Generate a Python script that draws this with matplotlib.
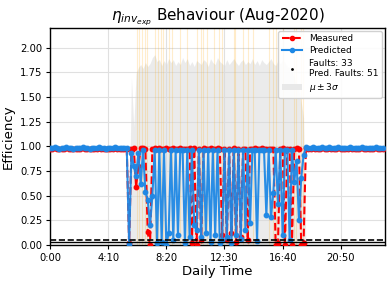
import numpy as np
import matplotlib
matplotlib.use("Agg")
import matplotlib.pyplot as plt
from matplotlib.ticker import FuncFormatter, MultipleLocator
from matplotlib.patches import Patch
from matplotlib.lines import Line2D

# ---- data (10-minute resolution, 144 samples) ----
step_min = 10
pred_night_am = [0.98, 0.98, 0.99, 0.98, 0.97, 0.98, 0.98, 0.99, 0.98, 0.98,
                 0.97, 0.98, 0.98, 0.98, 0.99, 0.98, 0.98, 0.97, 0.98, 0.98,
                 0.98, 0.99, 0.98, 0.98, 0.97, 0.98, 0.98, 0.98, 0.99, 0.98,
                 0.98, 0.98, 0.98, 0.98]
pred_day = [0.01, 0.93, 0.80, 0.70, 0.93, 0.62, 0.96, 0.54, 0.46, 0.20,
            0.50, 0.96, 0.02, 0.96, 0.03, 0.96, 0.00, 0.12, 0.96, 0.05,
            0.96, 0.10, 0.96, 0.96, 0.02, 0.96, 0.08, 0.96, 0.20, 0.15,
            0.96, 0.08, 0.96, 0.12, 0.96, 0.03, 0.96, 0.10, 0.96, 0.02,
            0.05, 0.96, 0.08, 0.96, 0.02, 0.96, 0.10, 0.96, 0.06, 0.96,
            0.15, 0.96, 0.22, 0.96, 0.96, 0.04, 0.96, 0.96, 0.96, 0.30,
            0.96, 0.28, 0.53, 0.96, 0.42, 0.96, 0.10, 0.96, 0.96, 0.05,
            0.96, 0.64, 0.85, 0.25, 0.68, 0.91]
pred_night_pm = [0.99, 0.98, 0.98, 0.99, 0.98, 0.98, 0.98, 0.99, 0.98, 0.98,
                 0.99, 0.98, 0.98, 0.98, 0.99, 0.98, 0.98, 0.98, 0.98, 0.99,
                 0.98, 0.98, 0.98, 0.98, 0.99, 0.98, 0.98, 0.98, 0.98, 0.98,
                 0.99, 0.98, 0.98, 0.98]

meas_night_am = [0.97, 0.97, 0.98, 0.97, 0.97, 0.97, 0.97, 0.98, 0.97, 0.97,
                 0.97, 0.97, 0.97, 0.97, 0.98, 0.97, 0.97, 0.97, 0.97, 0.97,
                 0.97, 0.98, 0.97, 0.97, 0.97, 0.97, 0.97, 0.97, 0.98, 0.97,
                 0.97, 0.97, 0.97, 0.97]
meas_day = [0.02, 0.97, 0.98, 0.59, 0.80, 0.98, 0.98, 0.97, 0.13, 0.00,
            0.97, 0.98, 0.97, 0.98, 0.97, 0.97, 0.98, 0.97, 0.97, 0.98,
            0.97, 0.97, 0.98, 0.97, 0.97, 0.97, 0.98, 0.02, 0.98, 0.00,
            0.97, 0.05, 0.98, 0.97, 0.97, 0.98, 0.97, 0.97, 0.98, 0.97,
            0.10, 0.97, 0.05, 0.97, 0.12, 0.98, 0.03, 0.97, 0.08, 0.97,
            0.97, 0.05, 0.97, 0.97, 0.98, 0.97, 0.97, 0.98, 0.97, 0.97,
            0.97, 0.97, 0.97, 0.00, 0.02, 0.97, 0.98, 0.00, 0.97, 0.97,
            0.00, 0.97, 0.98, 0.97, 0.00, 0.02]
meas_night_pm = [0.98, 0.97, 0.97, 0.98, 0.97, 0.97, 0.97, 0.98, 0.97, 0.97,
                 0.98, 0.97, 0.97, 0.97, 0.98, 0.97, 0.97, 0.97, 0.97, 0.98,
                 0.97, 0.97, 0.97, 0.97, 0.98, 0.97, 0.97, 0.97, 0.97, 0.97,
                 0.98, 0.97, 0.97, 0.97]

# upper edge of mu +/- 3 sigma band, from 5:30 to 18:20
band_start_min = 330
band_upper = [0.00, 0.30, 1.70, 1.20, 1.74, 1.80, 1.83, 1.79, 1.85, 1.81,
              1.84, 1.90, 1.93, 1.86, 1.88, 1.82, 1.87, 1.83, 1.89, 1.85,
              1.88, 1.82, 1.86, 1.83, 1.90, 1.85, 1.89, 1.82, 1.86, 1.81,
              1.87, 1.85, 1.83, 1.88, 1.86, 1.81, 1.89, 1.85, 1.83, 1.90,
              1.86, 1.84, 1.82, 1.88, 1.83, 1.86, 1.89, 1.85, 1.82, 1.86,
              1.88, 1.83, 1.86, 1.84, 1.89, 1.83, 1.87, 1.82, 1.88, 1.85,
              1.83, 1.86, 1.89, 1.84, 1.82, 1.87, 1.84, 1.88, 1.85, 1.81,
              1.80, 1.76, 1.70, 1.62, 1.58, 1.45, 1.29, 0.00]

fault_times_min = [375, 384, 397, 409, 418, 453, 466, 478, 487, 513, 526,
                   560, 590, 634, 647, 659, 677, 707, 728, 741, 789, 797,
                   828, 849, 871, 940, 957, 970, 1000, 1047, 1056, 1078, 1086]
n_faults = 33
n_pred_faults = 51
threshold_dashed = 0.055
threshold_solid = 0.028

predicted = np.array(pred_night_am + pred_day + pred_night_pm)
measured = np.array(meas_night_am + meas_day + meas_night_pm)
t = np.arange(len(predicted)) * step_min
tb = band_start_min + np.arange(len(band_upper)) * step_min

fig = plt.figure(figsize=(3.92, 2.83), dpi=100)
ax = fig.add_axes([0.1276, 0.134, 0.8545, 0.767])

ax.fill_between(tb, 0, band_upper, color="#d9d9d9", alpha=0.5, lw=0,
                label=r"$\mu \pm 3\sigma$", zorder=1)
for ft in fault_times_min:
    ax.axvline(ft, color="orange", alpha=0.2, lw=0.8, zorder=1)

ax.plot(t, measured, color="red", ls="--", lw=1.5, marker="o", ms=3.2,
        label="Measured", zorder=3)
ax.plot(t, predicted, color="#1e88e5", ls="-", lw=1.5, marker="o", ms=3.2,
        alpha=0.95, label="Predicted", zorder=4)
ax.axhline(threshold_dashed, color="black", ls="--", lw=1.2, zorder=5)
ax.axhline(threshold_solid, color="black", ls="-", lw=1.0, zorder=5)

ax.set_xlim(0, 1440)
ax.set_ylim(0, 2.2)
ax.xaxis.set_major_locator(MultipleLocator(250))
ax.xaxis.set_major_formatter(FuncFormatter(lambda v, p: f"{int(v)//60}:{int(v)%60:02d}"))
ax.yaxis.set_major_locator(MultipleLocator(0.25))
ax.yaxis.set_major_formatter(FuncFormatter(lambda v, p: f"{v:.2f}"))
ax.tick_params(labelsize=7.2, length=3, width=0.8, pad=2.5)
ax.grid(True, color="#e0e0e0", lw=0.8, zorder=0)
ax.set_axisbelow(True)
for s in ax.spines.values():
    s.set_color("black")
    s.set_linewidth(1.0)

ax.set_title(r"$\eta_{inv_{exp}}$ Behaviour (Aug-2020)", fontsize=11, pad=4)
ax.set_xlabel("Daily Time", fontsize=9.5, labelpad=2)
ax.set_ylabel("Efficiency", fontsize=9.5, labelpad=4)

handles = [
    Line2D([], [], color="red", ls="--", lw=1.5, marker="o", ms=3),
    Line2D([], [], color="#1e88e5", ls="-", lw=1.5, marker="o", ms=3),
    Line2D([], [], color="black", ls="", marker=".", ms=2),
    Patch(facecolor="#e8e8e8", edgecolor="none"),
]
labels = ["Measured", "Predicted",
          f"Faults: {n_faults}\nPred. Faults: {n_pred_faults}",
          r"$\mu \pm 3\sigma$"]
leg = ax.legend(handles, labels, loc="upper right", fontsize=6.5,
                framealpha=0.9, borderaxespad=0.3, handlelength=2.2,
                labelspacing=0.35)
leg.get_frame().set_edgecolor("#cccccc")

fig.savefig("out.png", dpi=100)
